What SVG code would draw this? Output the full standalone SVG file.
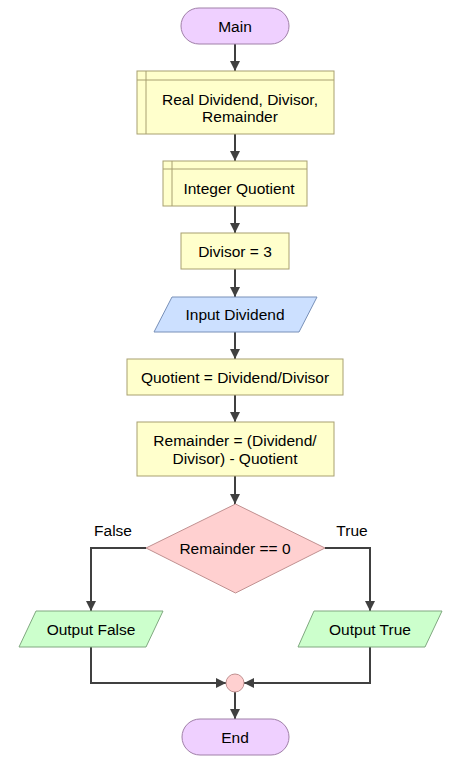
<svg xmlns="http://www.w3.org/2000/svg" width="469" height="763" viewBox="0 0 469 763">
<style>
text{font-family:"Liberation Sans",Arial,sans-serif;font-size:15.5px;fill:#000;text-anchor:middle;dominant-baseline:central}
.term{fill:#EFD0FF;stroke:#A080A8;stroke-width:1}
.proc{fill:#FFFFCC;stroke:#A8A070;stroke-width:1}
.in{fill:#CCE0FF;stroke:#7890B8;stroke-width:1}
.dec{fill:#FFD0D0;stroke:#C09090;stroke-width:1}
.out{fill:#CCFFCC;stroke:#80A880;stroke-width:1}
.ln{stroke:#A8A070;stroke-width:1;fill:none}
.conn path{fill:none;stroke:#404040;stroke-width:2;marker-end:url(#ah)}
</style>
<defs>
<marker id="ah" viewBox="0 0 10 10" refX="10" refY="5" markerWidth="5" markerHeight="5" orient="auto" markerUnits="strokeWidth">
<path d="M0,0 L10,5 L0,10 z" fill="#404040"/>
</marker>
</defs>
<rect width="469" height="763" fill="#fff"/>
<g class="conn">
<path d="M235,44 V71"/>
<path d="M235,134 V161"/>
<path d="M235,206 V233"/>
<path d="M235,269 V297"/>
<path d="M235,332 V359"/>
<path d="M235,395 V422"/>
<path d="M235,476 V504"/>
<path d="M146,548 H91 V611"/>
<path d="M325,548 H370 V611"/>
<path d="M91,647 V683 H226"/>
<path d="M370,647 V683 H244"/>
<path d="M235,692 V719"/>
</g>
<g id="main"><rect class="term" x="181" y="8" width="108" height="36" rx="18"/><text x="235" y="26">Main</text></g>
<g id="decl1"><rect class="proc" x="137" y="71" width="197" height="63"/><line class="ln" x1="146" y1="71" x2="146" y2="134"/><line class="ln" x1="137" y1="80" x2="334" y2="80"/><text x="240" y="99">Real Dividend, Divisor,</text><text x="240" y="116">Remainder</text></g>
<g id="decl2"><rect class="proc" x="163" y="161" width="144" height="45"/><line class="ln" x1="172" y1="161" x2="172" y2="206"/><line class="ln" x1="163" y1="169" x2="307" y2="169"/><text x="239" y="188">Integer Quotient</text></g>
<g id="assign"><rect class="proc" x="181" y="233" width="108" height="36"/><text x="235" y="251">Divisor = 3</text></g>
<g id="input"><polygon class="in" points="172,297 317,297 299,332 154,332"/><text x="235" y="314">Input Dividend</text></g>
<g id="quot"><rect class="proc" x="127" y="359" width="216" height="36"/><text x="235" y="377">Quotient = Dividend/Divisor</text></g>
<g id="rem"><rect class="proc" x="137" y="422" width="197" height="54"/><text x="235" y="440">Remainder = (Dividend/</text><text x="235" y="458">Divisor) - Quotient</text></g>
<g id="dec"><polygon class="dec" points="235.5,504 325,548 235.5,593 146,548"/><text x="235" y="548">Remainder == 0</text></g>
<text x="113" y="530">False</text>
<text x="352" y="530">True</text>
<g id="outF"><polygon class="out" points="36,611 163,611 146,647 19,647"/><text x="91" y="629">Output False</text></g>
<g id="outT"><polygon class="out" points="314,611 442,611 425,647 298,647"/><text x="370" y="629">Output True</text></g>
<g id="merge"><circle class="dec" cx="235" cy="683" r="9"/></g>
<g id="end"><rect class="term" x="182" y="719" width="107" height="36" rx="18"/><text x="235" y="737">End</text></g>
</svg>
